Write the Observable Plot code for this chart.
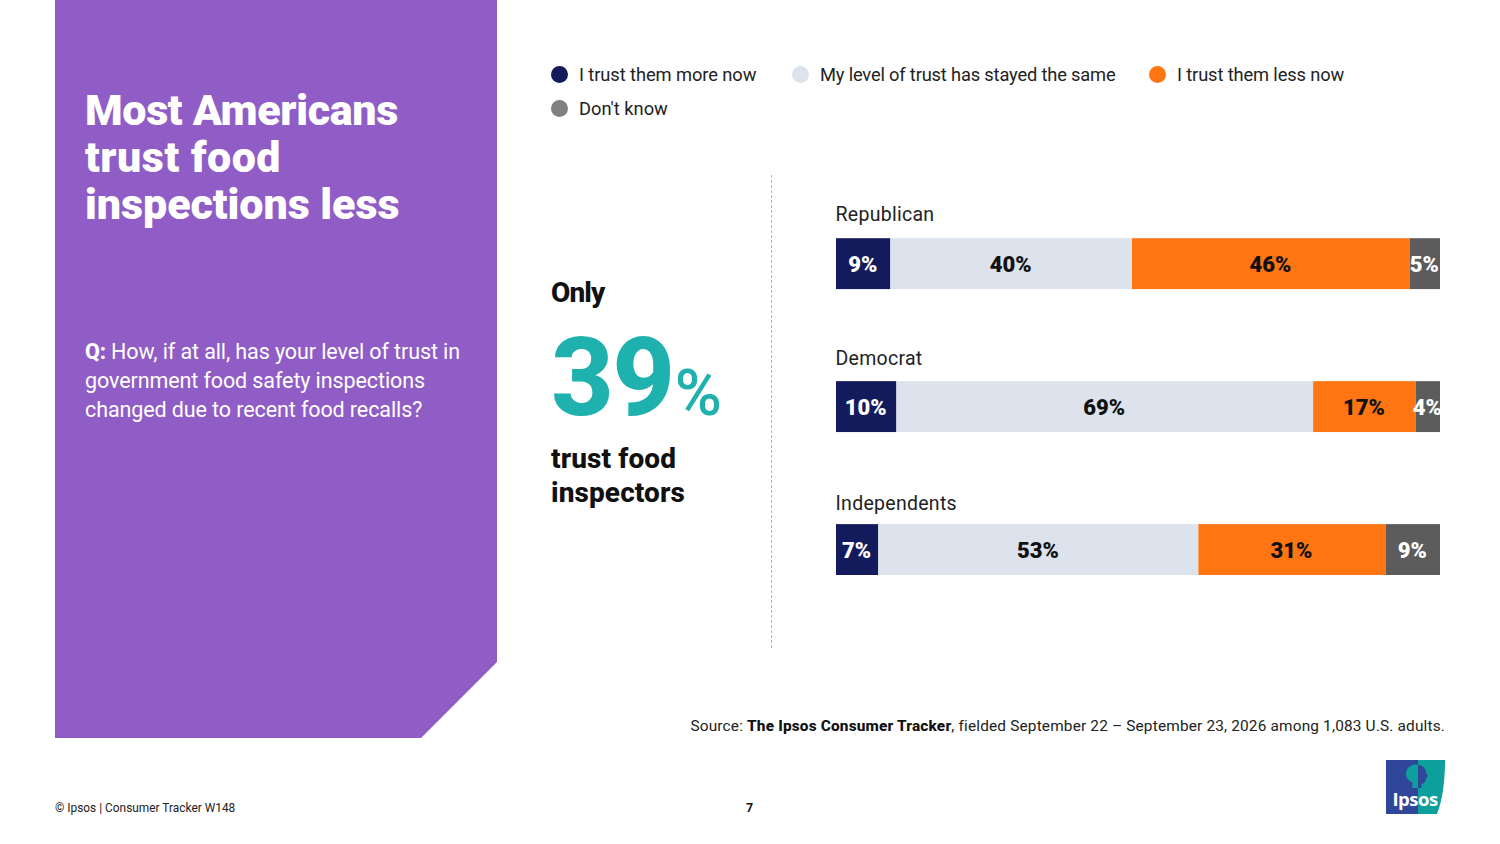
<!DOCTYPE html>
<html><head><meta charset="utf-8">
<script src="https://cdn.jsdelivr.net/npm/d3@7"></script>
<script src="https://cdn.jsdelivr.net/npm/@observablehq/plot@0.6"></script>
<style>
html,body{margin:0;padding:0;background:#fff;}
body{width:1500px;height:844px;position:relative;overflow:hidden;font-family:Roboto,sans-serif;color:#111;}
.a{position:absolute;white-space:nowrap;}
#panel{left:55px;top:0;width:442px;height:738px;background:#905DC6;clip-path:polygon(0 0,100% 0,100% 662px,366px 100%,0 100%);}
#title{left:85px;top:87px;color:#fff;font-weight:900;font-size:43px;line-height:47px;}
#q{left:85px;top:337px;color:#fff;font-size:21.5px;line-height:29px;letter-spacing:-.1px;}
.dot{position:absolute;width:17px;height:17px;border-radius:50%;}
.lg{font-size:18.3px;line-height:22px;color:#222;}
#rule{left:771px;top:175px;height:473px;border-left:1px dashed #b5b5b5;}
#chart{position:absolute;left:0;top:0;}
</style></head><body>
<div id="panel" class="a"></div>
<div id="title" class="a"><span style="letter-spacing:-.35px">Most Americans</span><br><span style="letter-spacing:.5px">trust food</span><br><span style="letter-spacing:-.05px">inspections less</span></div>
<div id="q" class="a"><b style="font-weight:800">Q:</b> How, if at all, has your level of trust in<br>government food safety inspections<br>changed due to recent food recalls?</div>
<div id="legend"></div>
<div class="a" style="left:551px;top:276px;font-size:28px;font-weight:800;line-height:33px;letter-spacing:-.9px">Only</div>
<div class="a" style="left:551px;top:316px;font-size:109px;font-weight:800;color:#1FB1AE;line-height:124px;letter-spacing:-1.5px">39<span style="font-size:64px;font-weight:500;letter-spacing:0;margin-left:1px">%</span></div>
<div class="a" style="left:551px;top:442px;font-size:28px;font-weight:800;line-height:34px;letter-spacing:.1px">trust food<br>inspectors</div>
<div id="rule" class="a"></div>
<div class="a" style="right:55px;top:717px;font-size:15.4px;line-height:18px;color:#222;letter-spacing:.17px"><span>Source: </span><b style="color:#111;font-weight:800">The Ipsos Consumer Tracker</b>, fielded September 22 – September 23, 2026 among 1,083 U.S. adults.</div>
<div class="a" style="left:55px;top:801px;font-size:11.9px;line-height:15px;color:#222">© Ipsos | Consumer Tracker W148</div>
<div class="a" style="left:746px;top:800px;font-size:12.5px;font-weight:700;line-height:15px">7</div>
<svg class="a" style="left:1385px;top:759px" width="61" height="56" viewBox="0 0 61 56">
<path d="M1 1H33V55H1Z" fill="#2F4699"/><path d="M33 1H60C60 20 58 40 52 55H33Z" fill="#0C9F9B"/>
<path d="M33 6C27 4 21 9 21 15C21 20 25 22 28 24L27 29H33Z" fill="#0C9F9B"/><path d="M33 6C38 6 41 10 41 14L43 17L41 19C41 23 38 25 36 25L37 29H33Z" fill="#2F4699"/>
<text x="30" y="47" text-anchor="middle" fill="#fff" font-family="Open Sans,sans-serif" font-weight="700" font-size="18.5" letter-spacing="-.5">Ipsos</text></svg>
<script>
const groups = ["Republican", "Democrat", "Independents"];
const responses = ["I trust them more now", "My level of trust has stayed the same", "I trust them less now", "Don't know"];
const republican = [9, 40, 46, 5];
const democrat = [10, 69, 17, 4];
const independents = [7, 53, 31, 9];
const barColors = ["#141B5C", "#DDE3EC", "#FF7511", "#5C5C5C"];
const legendColors = ["#141B5C", "#DDE3EC", "#FF7511", "#808080"];
const labelColors = ["#fff", "#111", "#111", "#fff"];

const series = [republican, democrat, independents];
const rows = groups.flatMap((g, i) => responses.map((r, j) => ({group: g, response: r, value: series[i][j], ink: labelColors[j]})));

const legendPos = [[551, 579, 66, -.08], [792, 820, 66, -.17], [1149, 1177, 66, -.13], [551, 579, 100, 0]];
const lg = document.getElementById("legend");
responses.forEach((r, i) => {
  const [dx, tx, y, ls] = legendPos[i];
  lg.insertAdjacentHTML("beforeend",
    `<div class="dot" style="left:${dx}px;top:${y}px;background:${legendColors[i]}"></div>` +
    `<div class="a lg" style="left:${tx}px;top:${y - 2}px;letter-spacing:${ls}px">${r}</div>`);
});

const labelOffsets = [-49.5, -48.5, -46.5];

const chart = Plot.plot({
  width: 1500, height: 844,
  marginLeft: 836, marginRight: 60, marginTop: 238.2, marginBottom: 269,
  style: {background: "transparent", fontFamily: "Roboto,sans-serif"},
  x: {domain: [0, 100], axis: null},
  y: {domain: groups, axis: null, paddingInner: 0.644, paddingOuter: 0, align: 0.5, round: false},
  color: {domain: responses, range: barColors},
  marks: [
    Plot.barX(rows, {x: "value", y: "group", fill: "response", order: responses}),
    Plot.text(rows, Plot.stackX({x: "value", y: "group", order: responses, z: "response", text: d => d.value + "%", fill: "ink", fontSize: 22, fontWeight: 900, dx: -1, dy: 1, clip: "frame"})),
    ...groups.map((g, i) => Plot.text([g], {y: d => d, text: d => d, frameAnchor: "left", textAnchor: "start", dx: -1, dy: labelOffsets[i], fontSize: 19.5, fill: "#222"}))
  ]
});
document.body.appendChild(chart);
chart.id = "chart";
chart.querySelectorAll("text").forEach(t => { if (groups.includes(t.textContent)) t.style.letterSpacing = ".28px"; });
</script>
</body></html>
